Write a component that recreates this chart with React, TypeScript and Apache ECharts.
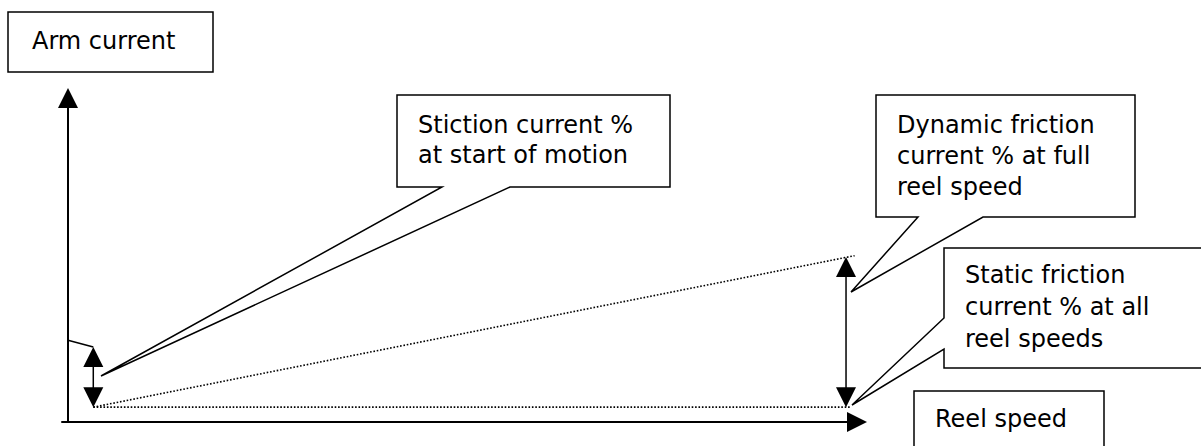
import React, { useEffect, useRef } from "react";
import * as echarts from "echarts";

// ---- data (speed in % of full reel speed, current in % of arm current) ----
const axisTitles = ["Arm current", "Reel speed"];
const startSpeed = 3.25;
const fullSpeed = 100;
const staticFrictionPct = 4.5;
const stictionPct = 22.7;
const dynamicFrictionPct = 50;
const stictionHump = [
  [0, 24.8],
  [startSpeed, stictionPct],
];
const staticFrictionLine = [
  [startSpeed, staticFrictionPct],
  [100.7, staticFrictionPct],
];
const dynamicFrictionLine = [
  [startSpeed, staticFrictionPct],
  [101.1, 50.4],
];
const rangeArrows = [
  [startSpeed, staticFrictionPct, stictionPct],
  [fullSpeed, staticFrictionPct, dynamicFrictionPct],
];
const calloutTexts = [
  "Stiction current %\nat start of motion",
  "Dynamic friction\ncurrent % at full\nreel speed",
  "Static friction\ncurrent % at all\nreel speeds",
];

const FONT = "'DejaVu Sans', Verdana, sans-serif";
const black = "#000";

function box(points: number[][]) {
  return {
    type: "polygon",
    z: 20,
    shape: { points },
    style: { fill: "#fff", stroke: black, lineWidth: 1.5 },
  };
}
function label(text: string, x: number, y: number, lh: number) {
  return {
    type: "text",
    z: 21,
    x,
    y,
    style: {
      text,
      fill: black,
      fontSize: 24,
      fontFamily: FONT,
      lineHeight: lh,
      verticalAlign: "top",
      align: "left",
    },
  };
}

export default function App() {
  const ref = useRef<HTMLDivElement>(null);
  useEffect(() => {
    if (!ref.current) return;
    const chart = echarts.init(ref.current, null, { renderer: "svg" });
    chart.setOption({
      animation: false,
      backgroundColor: "#fff",
      grid: { left: 62, right: 344, top: 98, bottom: 24, containLabel: false },
      xAxis: {
        type: "value",
        min: -0.771,
        max: 101.41,
        axisLine: {
          onZero: true,
          symbol: ["none", "triangle"],
          symbolSize: [20, 20],
          lineStyle: { color: black, width: 2 },
        },
        axisTick: { show: false },
        axisLabel: { show: false },
        splitLine: { show: false },
      },
      yAxis: {
        type: "value",
        min: 0,
        max: 98.18,
        axisLine: {
          show: true,
          onZero: true,
          symbol: ["none", "triangle"],
          symbolSize: [20, 20],
          lineStyle: { color: black, width: 2 },
        },
        axisTick: { show: false },
        axisLabel: { show: false },
        splitLine: { show: false },
      },
      series: [
        {
          type: "line",
          data: staticFrictionLine,
          symbol: "none",
          lineStyle: { color: black, width: 1.6, type: [1.6, 1.8] },
          z: 3,
        },
        {
          type: "line",
          data: dynamicFrictionLine,
          symbol: "none",
          lineStyle: { color: black, width: 1.6, type: [1.6, 1.8] },
          z: 3,
        },
        {
          type: "line",
          data: stictionHump,
          symbol: "none",
          lineStyle: { color: black, width: 1.5 },
          z: 3,
        },
        {
          type: "custom",
          data: rangeArrows,
          clip: false,
          z: 4,
          encode: { x: 0, y: [1, 2] },
          renderItem: (_p: any, api: any) => {
            const x = api.value(0);
            const lo = api.coord([x, api.value(1)]);
            const hi = api.coord([x, api.value(2)]);
            const w = 10;
            const h = 20;
            return {
              type: "group",
              children: [
                {
                  type: "line",
                  shape: { x1: lo[0], y1: lo[1] - h + 1, x2: hi[0], y2: hi[1] + h - 1 },
                  style: { stroke: black, lineWidth: 1.5 },
                },
                {
                  type: "polygon",
                  shape: { points: [[hi[0], hi[1]], [hi[0] - w, hi[1] + h], [hi[0] + w, hi[1] + h]] },
                  style: { fill: black },
                },
                {
                  type: "polygon",
                  shape: { points: [[lo[0], lo[1]], [lo[0] - w, lo[1] - h], [lo[0] + w, lo[1] - h]] },
                  style: { fill: black },
                },
              ],
            };
          },
        },
      ],
      graphic: [
        box([[8, 12], [213, 12], [213, 72], [8, 72]]),
        label(axisTitles[0], 32, 26, 30),
        box([[397, 95], [670, 95], [670, 187], [510, 187], [101, 376], [442, 187], [397, 187]]),
        label(calloutTexts[0], 418, 110, 30),
        box([[876, 95], [1135, 95], [1135, 217], [983, 217], [851, 292], [918, 217], [876, 217]]),
        label(calloutTexts[1], 897, 109, 31),
        box([[944, 248], [1215, 248], [1215, 368], [944, 368], [944, 349], [852, 405], [944, 318]]),
        label(calloutTexts[2], 965, 259, 32),
        box([[914, 391], [1104, 391], [1104, 470], [914, 470]]),
        label(axisTitles[1], 935, 404, 30),
      ],
    });
    return () => chart.dispose();
  }, []);
  return (
    <div
      ref={ref}
      style={{ position: "absolute", left: 0, top: 0, width: 1201, height: 446, background: "#fff" }}
    />
  );
}
